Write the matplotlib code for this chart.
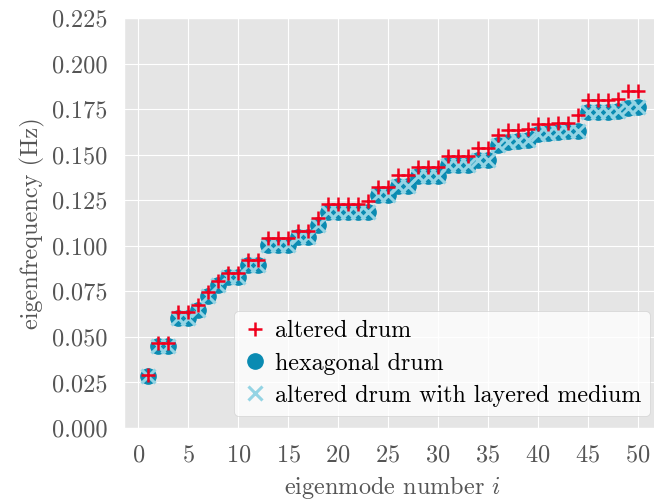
import numpy as np
import matplotlib
matplotlib.use('Agg')
import matplotlib.pyplot as plt

plt.style.use('ggplot')
plt.rcParams['font.family'] = ['cmr10', 'DejaVu Serif']
plt.rcParams['mathtext.fontset'] = 'cm'
plt.rcParams['axes.formatter.use_mathtext'] = True
plt.rcParams['font.size'] = 17.5

# eigenmode index
modes = np.arange(1, 51)

# eigenfrequencies (Hz)
altered = [0.0292, 0.0469, 0.0469, 0.0635, 0.0635, 0.0675, 0.0748, 0.0808, 0.0852, 0.0852,
           0.0922, 0.0922, 0.1045, 0.1045, 0.1045, 0.1080, 0.1080, 0.1150, 0.1232, 0.1232,
           0.1232, 0.1232, 0.1246, 0.1323, 0.1323, 0.1387, 0.1387, 0.1432, 0.1432, 0.1432,
           0.1493, 0.1493, 0.1493, 0.1539, 0.1539, 0.1606, 0.1638, 0.1638, 0.1640, 0.1668,
           0.1670, 0.1672, 0.1675, 0.1720, 0.1802, 0.1802, 0.1802, 0.1803, 0.1852, 0.1852]

hexagonal = [0.0283, 0.0451, 0.0451, 0.0606, 0.0606, 0.0648, 0.0725, 0.0785, 0.0827, 0.0827,
             0.0894, 0.0894, 0.1004, 0.1004, 0.1004, 0.1048, 0.1048, 0.1113, 0.1183, 0.1183,
             0.1183, 0.1183, 0.1183, 0.1277, 0.1277, 0.1327, 0.1327, 0.1381, 0.1381, 0.1381,
             0.1442, 0.1442, 0.1442, 0.1469, 0.1469, 0.1551, 0.1572, 0.1575, 0.1578, 0.1615,
             0.1620, 0.1624, 0.1628, 0.1630, 0.1733, 0.1733, 0.1735, 0.1737, 0.1757, 0.1760]

layered = [0.0283, 0.0451, 0.0451, 0.0606, 0.0606, 0.0648, 0.0725, 0.0785, 0.0827, 0.0827,
           0.0894, 0.0894, 0.1004, 0.1004, 0.1004, 0.1048, 0.1048, 0.1113, 0.1183, 0.1183,
           0.1183, 0.1183, 0.1183, 0.1277, 0.1277, 0.1327, 0.1327, 0.1381, 0.1381, 0.1381,
           0.1442, 0.1442, 0.1442, 0.1469, 0.1469, 0.1551, 0.1572, 0.1575, 0.1578, 0.1615,
           0.1620, 0.1624, 0.1628, 0.1630, 0.1733, 0.1733, 0.1735, 0.1737, 0.1757, 0.1760]

fig = plt.figure(figsize=(6.54, 5.0), dpi=100)
ax = fig.add_axes([124 / 654, 1 - 428 / 500, 538 / 654, 410 / 500])

h_hex, = ax.plot(modes, hexagonal, 'o', color='#0a8bb2', markersize=11, zorder=2,
                 label='hexagonal drum')
h_lay, = ax.plot(modes, layered, 'x', color='#94d4e4', markersize=10.5, mew=2.2, zorder=3,
                 label='altered drum with layered medium')
h_alt, = ax.plot(modes, altered, '+', color='#f0001c', markersize=10.5, mew=1.8, zorder=4,
                 label='altered drum')

ax.set_xlim(-1.45, 52.45)
ax.set_ylim(0, 0.225)
ax.set_xticks(np.arange(0, 51, 5))
ax.set_yticks(np.arange(0, 0.226, 0.025))
ax.yaxis.set_major_formatter(matplotlib.ticker.FormatStrFormatter('%.3f'))
ax.tick_params(length=0, pad=12, labelcolor='#555555')

ax.set_xlabel('eigenmode number $i$', color='#555555', fontsize=17.5, labelpad=5)
ax.set_ylabel('eigenfrequency (Hz)', color='#555555', fontsize=17.5, labelpad=5)

leg = ax.legend(handles=[h_alt, h_hex, h_lay], loc='lower right', facecolor='white',
                framealpha=0.8, edgecolor='#cccccc', fontsize=17.3,
                handlelength=1.0, handletextpad=0.3, borderpad=0.38, labelspacing=0.42)

fig.savefig('out.png', dpi=100)
